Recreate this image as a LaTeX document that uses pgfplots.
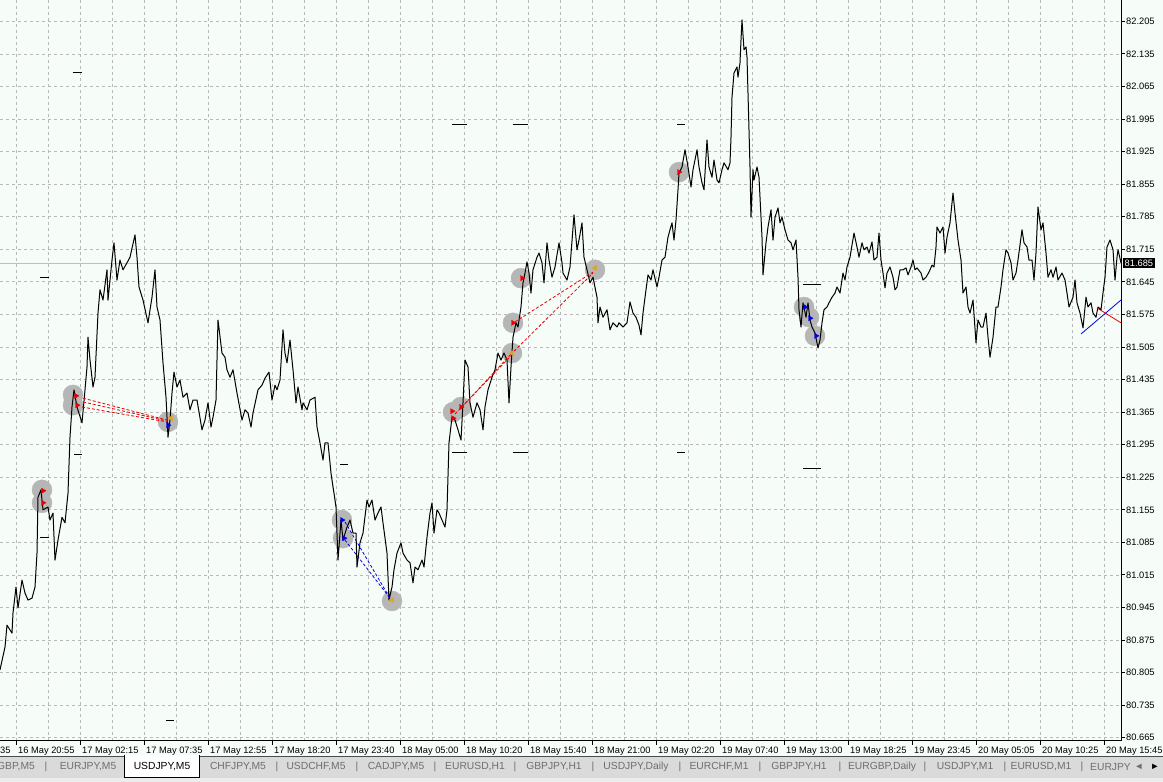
\documentclass[border=0pt]{standalone}
\usepackage{pgfplots}
\pgfplotsset{compat=1.18}
\usepackage{fontspec}
\setmainfont{Liberation Sans}
\definecolor{chartbg}{RGB}{246,252,248}
\definecolor{gridc}{RGB}{185,185,185}
\definecolor{tabbar}{RGB}{218,218,218}
\definecolor{tabbot}{RGB}{236,236,236}
\definecolor{tabtext}{RGB}{110,110,110}
\definecolor{markgray}{RGB}{182,182,182}
\definecolor{gold}{RGB}{224,164,40}
\definecolor{tradered}{RGB}{235,0,0}
\definecolor{tradeblue}{RGB}{0,0,225}
\newcommand\lab{\fontsize{9.3}{10}\selectfont}
\newcommand\tabf{\fontsize{10.3}{11}\selectfont}

\begin{document}
\begin{tikzpicture}
\useasboundingbox (0pt,0pt) rectangle (1163pt,782pt);
\clip (0pt,0pt) rectangle (1163pt,782pt);
\fill[chartbg] (0pt,0pt) rectangle (1163pt,782pt);
% symbol tabs
\begin{scope}[x=1pt,y=1pt]
\fill[tabbar] (0,4) rectangle (1163,26);
\fill[tabbot] (0,0) rectangle (1163,4);
\draw[black!70, line width=0.8pt] (0,26) -- (124,26);
\draw[black!70, line width=0.8pt] (199,26) -- (1163,26);
\fill[white] (124,4) rectangle (199,26.5);
\draw[black, line width=1pt] (124,26.5) -- (124,4) -- (199,4) -- (199,26.5);
\begin{scope}[every node/.style={font=\tabf, text=tabtext, inner sep=0pt}]
\node[anchor=east] at (35,15) {EURGBP,M5};
\node at (88,15) {EURJPY,M5};
\node[text=black] at (162,15) {USDJPY,M5};
\node at (238,15) {CHFJPY,M5};
\node at (316,15) {USDCHF,M5};
\node at (396,15) {CADJPY,M5};
\node at (475,15) {EURUSD,H1};
\node at (554,15) {GBPJPY,H1};
\node at (636,15) {USDJPY,Daily};
\node at (719,15) {EURCHF,M1};
\node at (799,15) {GBPJPY,H1};
\node at (882,15) {EURGBP,Daily};
\node at (965,15) {USDJPY,M1};
\node at (1041,15) {EURUSD,M1};
\node[anchor=west] at (1090,15) {EURJPY};
\foreach \s in {46,277,357,435,515,593,680,760,840,925,1005,1082}
  \node at (\s,15) {|};
\end{scope}
\node[font=\lab, text=tabtext] at (1139,15) {◄};
\node[font=\lab, text=black] at (1155,15) {►};
\end{scope}

\begin{axis}[
  at={(0pt,41pt)}, anchor=south west,
  scale only axis, width=1121pt, height=741pt,
  xmin=0, xmax=1121, ymin=80.658, ymax=82.251,
  clip mode=individual,
  axis x line*=bottom, axis y line*=right,
  axis line style={-, black, line width=1pt},
  tick align=outside, major tick length=4pt, minor tick length=0pt,
  tick style={black, line width=1pt},
  xtick={16,80,...,1104},
  minor xtick={48,112,...,1072},
  xticklabels={16 May 20:55,17 May 02:15,17 May 07:35,17 May 12:55,17 May 18:20,17 May 23:40,18 May 05:00,18 May 10:20,18 May 15:40,18 May 21:00,19 May 02:20,19 May 07:40,19 May 13:00,19 May 18:25,19 May 23:45,20 May 05:05,20 May 10:25,20 May 15:45},
  xticklabel style={font=\lab, anchor=north west, inner sep=0pt, xshift=2pt, yshift=-2pt},
  ytick={80.665,80.735,80.805,80.875,80.945,81.015,81.085,81.155,81.225,81.295,81.365,81.435,81.505,81.575,81.645,81.715,81.785,81.855,81.925,81.995,82.065,82.135,82.205},
  yticklabels={80.665,80.735,80.805,80.875,80.945,81.015,81.085,81.155,81.225,81.295,81.365,81.435,81.505,81.575,81.645,81.715,81.785,81.855,81.925,81.995,82.065,82.135,82.205},
  yticklabel style={font=\lab, anchor=west, inner sep=0pt, xshift=1pt},
  ymajorgrids, xmajorgrids, xminorgrids,
  major grid style={gridc, line width=0.8pt, dash pattern=on 3pt off 3pt},
  minor grid style={gridc, line width=0.8pt, dash pattern=on 3pt off 3pt},
]
% current bid line
\addplot[black!25, line width=1pt] coordinates {(0,81.685) (1121,81.685)};

% daily level dashes
\addplot[black, line width=1pt] coordinates {(73,82.096) (82,82.096)};
\addplot[black, line width=1pt] coordinates {(40,81.655) (49,81.655)};
\addplot[black, line width=1pt] coordinates {(74,81.273) (82,81.273)};
\addplot[black, line width=1pt] coordinates {(40,81.096) (49,81.096)};
\addplot[black, line width=1pt] coordinates {(166,80.703) (174,80.703)};
\addplot[black, line width=1pt] coordinates {(452,81.984) (467,81.984)};
\addplot[black, line width=1pt] coordinates {(513,81.984) (528,81.984)};
\addplot[black, line width=1pt] coordinates {(452,81.279) (467,81.279)};
\addplot[black, line width=1pt] coordinates {(513,81.279) (528,81.279)};
\addplot[black, line width=1pt] coordinates {(340,81.253) (348,81.253)};
\addplot[black, line width=1pt] coordinates {(677,81.984) (685,81.984)};
\addplot[black, line width=1pt] coordinates {(677,81.279) (685,81.279)};
\addplot[black, line width=1pt] coordinates {(803,81.640) (821,81.640)};
\addplot[black, line width=1pt] coordinates {(803,81.243) (821,81.243)};

% trade highlight circles
\addplot[only marks, mark=*, mark size=10pt, mark options={fill=markgray, draw=markgray}]
coordinates {(42,81.198) (42,81.170) (73,81.402) (73,81.380) (168,81.344)
(342,81.133) (343,81.094) (392,80.959) (453,81.365) (461,81.376)
(513,81.557) (512,81.492) (521,81.653) (595,81.671) (679,81.881)
(804,81.591) (809,81.569) (815,81.529)};

% USDJPY M5 close
\addplot[black, line width=1pt, line join=round] coordinates {
(0,80.811) (5,80.860) (7,80.907) (12,80.890) (13,80.933) (16,80.989) (18,80.944) (22,81.004)
(25,80.976) (28,80.961) (32,80.965) (35,80.989) (37,81.062) (38,81.182) (41,81.198) (43,81.155)
(48,81.161) (50,81.133) (53,81.148) (55,81.047) (58,81.090) (62,81.139) (65,81.127) (68,81.191)
(70,81.311) (72,81.376) (74,81.413) (77,81.376) (82,81.342) (85,81.413) (87,81.462) (88,81.526)
(90,81.477) (93,81.419) (95,81.440) (98,81.578) (100,81.628) (103,81.606) (107,81.671) (108,81.606)
(112,81.692) (114,81.729) (117,81.649) (120,81.692) (123,81.671) (127,81.686) (130,81.698) (135,81.746)
(137,81.698) (139,81.634) (143,81.606) (148,81.557) (152,81.612) (155,81.671) (157,81.591) (160,81.563)
(163,81.471) (166,81.397) (168,81.311) (170,81.348) (172,81.406) (174,81.451) (177,81.419) (180,81.434)
(183,81.397) (187,81.406) (190,81.370) (193,81.391) (197,81.391) (202,81.327) (205,81.348) (208,81.385)
(211,81.333) (213,81.354) (216,81.391) (218,81.563) (222,81.492) (225,81.483) (227,81.456) (230,81.440)
(233,81.456) (237,81.406) (242,81.348) (245,81.370) (248,81.363) (251,81.333) (253,81.363) (258,81.413)
(262,81.423) (265,81.438) (269,81.451) (272,81.391) (275,81.423) (277,81.413) (280,81.434) (283,81.542)
(285,81.492) (287,81.471) (290,81.520) (293,81.456) (296,81.385) (298,81.419) (302,81.370) (303,81.385)
(307,81.370) (310,81.391) (315,81.397) (317,81.333) (320,81.299) (323,81.262) (325,81.299) (328,81.299)
(331,81.234) (333,81.204) (334,81.191) (336,81.161) (338,81.047) (341,81.133) (343,81.090) (347,81.118)
(350,81.133) (353,81.105) (356,81.105) (357,81.032) (360,81.084) (363,81.105) (367,81.176) (369,81.161)
(372,81.176) (375,81.133) (378,81.148) (381,81.161) (383,81.127) (387,81.062) (389,80.961) (392,80.989)
(394,81.026) (397,81.062) (401,81.084) (403,81.062) (407,81.047) (410,81.041) (413,80.998) (415,81.032)
(418,81.026) (422,81.047) (424,81.032) (427,81.096) (430,81.148) (432,81.170) (434,81.105) (437,81.155)
(439,81.148) (442,81.133) (445,81.118) (447,81.155) (449,81.299) (452,81.354) (455,81.348) (458,81.327)
(461,81.305) (463,81.385) (465,81.477) (468,81.462) (470,81.385) (473,81.354) (477,81.385) (480,81.370)
(483,81.327) (485,81.376) (488,81.413) (492,81.440) (495,81.456) (498,81.492) (501,81.477) (504,81.492)
(507,81.477) (509,81.385) (511,81.462) (513,81.526) (516,81.557) (518,81.548) (521,81.591) (523,81.643)
(525,81.664) (527,81.688) (529,81.664) (531,81.621) (533,81.671) (537,81.698) (539,81.707) (542,81.686)
(544,81.643) (547,81.729) (549,81.692) (552,81.655) (555,81.677) (559,81.729) (562,81.686) (563,81.664)
(567,81.649) (570,81.677) (574,81.789) (577,81.714) (579,81.735) (582,81.772) (584,81.698) (587,81.671)
(590,81.643) (593,81.655) (597,81.612) (598,81.557) (600,81.591) (603,81.569) (607,81.585) (610,81.542)
(613,81.557) (617,81.548) (619,81.557) (623,81.548) (627,81.557) (630,81.602) (633,81.578) (636,81.569)
(639,81.552) (641,81.531) (643,81.578) (646,81.628) (648,81.660) (651,81.649) (653,81.671) (657,81.634)
(659,81.655) (662,81.692) (665,81.698) (668,81.741) (670,81.757) (672,81.772) (674,81.735) (676,81.778)
(678,81.843) (679,81.879) (682,81.892) (685,81.929) (688,81.892) (691,81.849) (693,81.886) (697,81.929)
(699,81.892) (702,81.858) (704,81.843) (707,81.950) (709,81.892) (712,81.870) (714,81.907) (717,81.864)
(719,81.858) (722,81.886) (724,81.901) (728,81.886) (730,81.901) (731,81.956) (732,82.042) (734,82.094)
(737,82.107) (738,82.085) (740,82.116) (741,82.165) (742,82.208) (744,82.144) (746,82.150) (747,82.128)
(748,82.051) (750,81.892) (751,81.784) (753,81.886) (754,81.864) (757,81.892) (759,81.870) (762,81.741)
(763,81.660) (766,81.729) (768,81.763) (771,81.800) (773,81.735) (775,81.784) (778,81.804) (780,81.772)
(782,81.784) (785,81.757) (788,81.735) (791,81.729) (793,81.714) (796,81.735) (798,81.655) (799,81.585)
(801,81.548) (803,81.600) (806,81.569) (808,81.600) (810,81.563) (812,81.548) (815,81.535) (818,81.503)
(820,81.520) (822,81.557) (824,81.585) (827,81.591) (829,81.600) (832,81.612) (835,81.621) (837,81.634)
(840,81.621) (843,81.664) (845,81.649) (847,81.677) (850,81.698) (854,81.750) (857,81.720) (859,81.698)
(862,81.729) (864,81.714) (867,81.720) (869,81.707) (872,81.731) (874,81.692) (877,81.698) (879,81.750)
(881,81.692) (883,81.664) (885,81.632) (887,81.664) (890,81.677) (893,81.655) (895,81.628) (897,81.634)
(900,81.671) (903,81.671) (906,81.675) (908,81.660) (911,81.677) (913,81.692) (915,81.671) (917,81.675)
(921,81.664) (923,81.649) (926,81.655) (929,81.666) (932,81.681) (934,81.677) (936,81.720) (937,81.763)
(940,81.750) (943,81.763) (945,81.707) (947,81.741) (950,81.772) (953,81.836) (955,81.793) (958,81.735)
(961,81.692) (963,81.621) (966,81.634) (968,81.591) (970,81.578) (973,81.606) (976,81.514) (978,81.563)
(981,81.548) (983,81.548) (986,81.578) (988,81.526) (990,81.483) (993,81.526) (996,81.591) (998,81.591)
(1001,81.634) (1003,81.671) (1006,81.714) (1008,81.707) (1011,81.686) (1013,81.649) (1016,81.664) (1018,81.692)
(1022,81.757) (1024,81.729) (1027,81.720) (1029,81.692) (1032,81.692) (1034,81.649) (1036,81.707) (1038,81.806)
(1041,81.757) (1043,81.772) (1046,81.707) (1048,81.655) (1051,81.671) (1053,81.655) (1056,81.677) (1058,81.649)
(1062,81.664) (1065,81.649) (1067,81.621) (1069,81.591) (1073,81.612) (1075,81.649) (1077,81.600) (1080,81.578)
(1083,81.546) (1086,81.612) (1088,81.591) (1091,81.600) (1093,81.578) (1096,81.569) (1098,81.591) (1101,81.585)
(1103,81.621) (1105,81.655) (1107,81.720) (1110,81.735) (1113,81.714) (1115,81.649) (1117,81.698) (1118,81.714)
(1121,81.686)
};

% trade connectors
\addplot[tradered, line width=0.8pt, dash pattern=on 3pt off 2pt] coordinates {(83,81.395) (167,81.348)};
\addplot[tradered, line width=0.8pt, dash pattern=on 3pt off 2pt] coordinates {(83,81.387) (167,81.346)};
\addplot[tradered, line width=0.8pt, dash pattern=on 3pt off 2pt] coordinates {(82,81.376) (167,81.344)};
\addplot[tradered, line width=0.8pt, dash pattern=on 3pt off 2pt] coordinates {(461,81.374) (512,81.492)};
\addplot[tradered, line width=0.8pt, dash pattern=on 3pt off 2pt] coordinates {(455,81.361) (511,81.486)};
\addplot[tradered, line width=0.8pt, dash pattern=on 3pt off 2pt] coordinates {(515,81.559) (593,81.666)};
\addplot[tradered, line width=0.8pt, dash pattern=on 3pt off 2pt] coordinates {(514,81.496) (593,81.664)};
\addplot[tradeblue, line width=0.8pt, dash pattern=on 3pt off 2pt] coordinates {(345,81.129) (390,80.965)};
\addplot[tradeblue, line width=0.8pt, dash pattern=on 3pt off 2pt] coordinates {(345,81.090) (390,80.965)};

% trade arrows
\addplot[only marks, mark=triangle*, mark size=3pt, mark options={rotate=-90, fill=tradered, draw=tradered}]
coordinates {(43,81.196) (43,81.170) (76,81.400) (77,81.380) (452,81.367) (453,81.352) (461,81.376)
(513,81.557) (522,81.653) (679,81.881)};
\addplot[only marks, mark=triangle*, mark size=3pt, mark options={rotate=-90, fill=tradeblue, draw=tradeblue}]
coordinates {(168,81.337) (342,81.133) (344,81.094) (805,81.591) (810,81.567) (816,81.529)};
\addplot[only marks, mark=triangle*, mark size=3pt, mark options={rotate=90, fill=gold, draw=gold}]
coordinates {(171,81.352) (392,80.961) (512,81.492) (595,81.675)};

% trend lines
\addplot[tradeblue, line width=0.8pt] coordinates {(1081,81.533) (1121,81.606)};
\addplot[tradered, line width=0.8pt] coordinates {(1097,81.589) (1121,81.557)};

% clipped first time label and bid box
\node[font=\lab, anchor=north west, inner sep=0pt] at ([xshift=2pt,yshift=-6pt]axis cs:-48,80.658) {16 May 15:35};
\node[font=\lab, fill=black, text=white, anchor=west, inner sep=1.5pt] at ([xshift=2pt]axis cs:1121,81.685) {81.685};
\end{axis}
\end{tikzpicture}
\end{document}
